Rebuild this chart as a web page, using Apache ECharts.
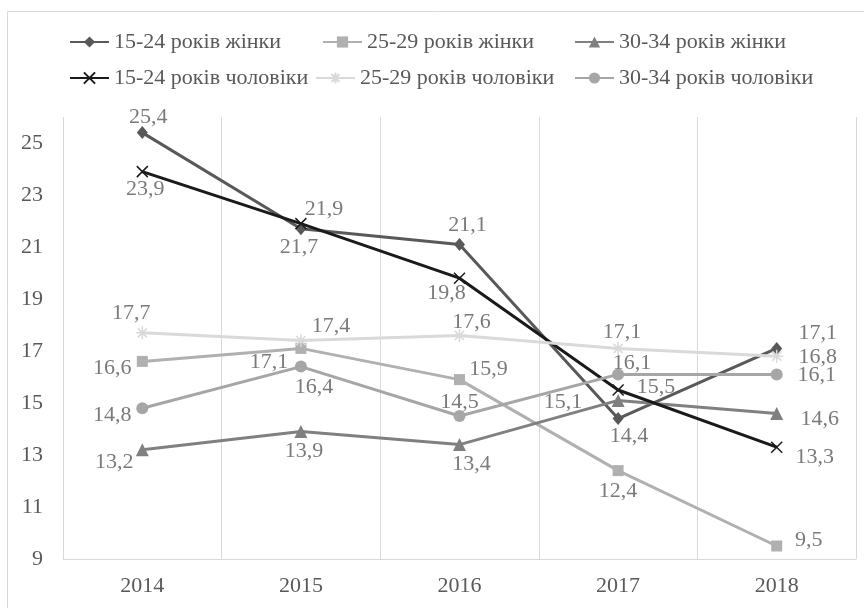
<!DOCTYPE html>
<html>
<head>
<meta charset="utf-8">
<script src="https://cdn.jsdelivr.net/npm/echarts@6/dist/echarts.min.js"></script>
<style>
  html, body { margin: 0; padding: 0; background: #fff; overflow: hidden; }
  #chart { width: 864px; height: 608px; }
</style>
</head>
<body>
<div id="chart"></div>
<script>
// data
const years = ['2014', '2015', '2016', '2017', '2018'];
const seriesNames = [
  '15-24 років жінки', '25-29 років жінки', '30-34 років жінки',
  '15-24 років чоловіки', '25-29 років чоловіки', '30-34 років чоловіки'
];
const women1524 = [25.4, 21.7, 21.1, 14.4, 17.1];
const women2529 = [16.6, 17.1, 15.9, 12.4, 9.5];
const women3034 = [13.2, 13.9, 13.4, 15.1, 14.6];
const men1524 = [23.9, 21.9, 19.8, 15.5, 13.3];
const men2529 = [17.7, 17.4, 17.6, 17.1, 16.8];
const men3034 = [14.8, 16.4, 14.5, 16.1, 16.1];
const yTicks = [9, 11, 13, 15, 17, 19, 21, 23, 25];

// label offsets from marker centre (px), per series / per point
const labelOffsets = [
  [[6, -15], [-2, 18], [8, -19], [11, 18], [41, -15]],
  [[-30, 7], [-32, 14], [29, -10], [0, 21], [32, -6]],
  [[-28, 12], [3, 20], [12, 20], [-55, 2], [43, 6]],
  [[3, 18], [23, -14], [-13, 15], [38, -3], [38, 10]],
  [[-11, -20], [30, -14], [12, -13], [4, -16], [41, 1]],
  [[-30, 7], [13, 21], [0, -14], [14, -11], [40, 1]]
];

const FONT = "'Liberation Serif', 'Times New Roman', serif";
const allValues = [women1524, women2529, women3034, men1524, men2529, men3034];
const colors = ['#595959', '#b0b0b0', '#808080', '#1a1a1a', '#d9d9d9', '#a6a6a6'];
const symbols = [
  'diamond', 'rect', 'triangle',
  'path://M0,0L10,10M10,0L0,10',
  'path://M5,0L5,10M0,5L10,5M1.5,1.5L8.5,8.5M8.5,1.5L1.5,8.5'
  , 'circle'
];
const symbolSizes = [[11, 13], 11, 13, 11, 13, 12];

const chart = echarts.init(document.getElementById('chart'));

const series = allValues.map((vals, si) => ({
  name: seriesNames[si],
  type: 'line',
  data: vals.map((v, i) => ({
    value: v,
    label: { offset: labelOffsets[si][i] }
  })),
  symbol: symbols[si],
  symbolSize: symbolSizes[si],
  lineStyle: { color: colors[si], width: 3 },
  itemStyle: {
    color: colors[si],
    borderColor: colors[si],
    borderWidth: (si === 3 || si === 4) ? 1.5 : 0
  },
  label: {
    show: true,
    position: 'inside',
    color: '#7a7a7a',
    fontFamily: FONT,
    fontSize: 22,
    formatter: p => p.value.toFixed(1).replace('.', ',')
  },
  emphasis: { disabled: true },
  animation: false
}));

// one legend per entry so the two rows line up like the original
const legendPos = [
  [69, 31], [322, 31], [574, 31],
  [69, 67], [315, 67], [574, 67]
];
const legends = seriesNames.map((n, i) => ({
  data: [n],
  left: legendPos[i][0],
  top: legendPos[i][1],
  itemWidth: 39,
  itemHeight: 14,
  padding: 0,
  selectedMode: false,
  textStyle: { fontFamily: FONT, fontSize: 22, color: '#595959' }
}));

chart.setOption({
  animation: false,
  graphic: [{
    type: 'rect',
    shape: { x: 7.5, y: 11.5, width: 900, height: 700 },
    style: { fill: 'none', stroke: '#d9d9d9', lineWidth: 1 },
    silent: true
  }],
  legend: legends,
  grid: { left: 63, right: 8, top: 117, bottom: 49, containLabel: false },
  xAxis: {
    type: 'category',
    data: years,
    boundaryGap: true,
    axisLine: { lineStyle: { color: '#d9d9d9', width: 1 } },
    axisTick: { show: false },
    splitLine: { show: true, lineStyle: { color: '#d9d9d9', width: 1 } },
    axisLabel: { fontFamily: FONT, fontSize: 22, color: '#595959', margin: 16 }
  },
  yAxis: {
    type: 'value',
    min: 9,
    max: 26,
    axisLine: { show: false },
    axisTick: { show: false },
    splitLine: { show: false },
    axisLabel: {
      customValues: yTicks,
      fontFamily: FONT, fontSize: 22, color: '#595959', margin: 20
    }
  },
  series: series
});
</script>
</body>
</html>
